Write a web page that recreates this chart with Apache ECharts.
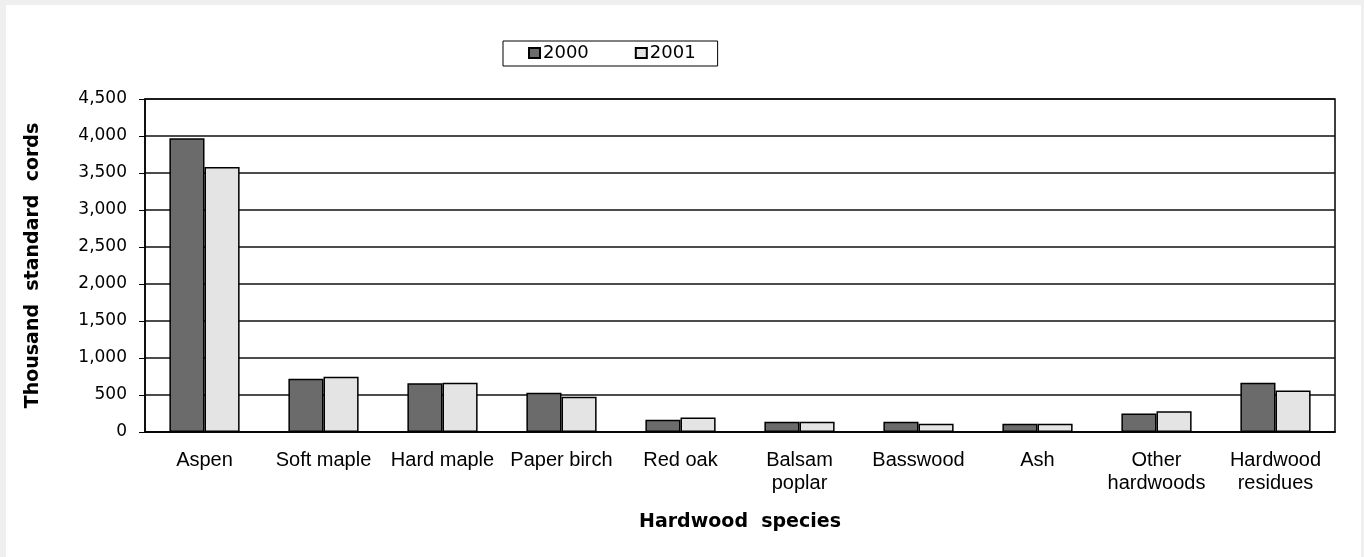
<!DOCTYPE html>
<html>
<head>
<meta charset="utf-8">
<script src="https://cdn.jsdelivr.net/npm/echarts@6/dist/echarts.min.js"></script>
<style>
  html, body { margin: 0; padding: 0; background: #efefef; }
  #chart { position: absolute; left: 6px; top: 5px; width: 1355px; height: 552px; background: #fff; }
</style>
</head>
<body>
<div id="chart"></div>
<script>
// categories and values (thousand standard cords)
const species = ["Aspen", "Soft maple", "Hard maple", "Paper birch", "Red oak",
  "Balsam\npoplar", "Basswood", "Ash", "Other\nhardwoods", "Hardwood\nresidues"];
const y2000 = [3970, 720, 660, 530, 165, 140, 140, 110, 250, 665];
const y2001 = [3580, 745, 665, 475, 195, 140, 112, 110, 280, 560];
const legendNames = ["2000", "2001"];

const chart = echarts.init(document.getElementById("chart"));
const sans = "Liberation Sans, Arial, sans-serif";
const wide = "DejaVu Sans, sans-serif";

chart.setOption({
  animation: false,
  textStyle: { fontFamily: sans },
  legend: {
    data: legendNames,
    top: 36,
    left: 497,
    itemWidth: 11,
    itemHeight: 10,
    itemGap: 46,
    icon: "rect",
    padding: [3, 22, 4, 25],
    borderColor: "#000",
    borderWidth: 1,
    textStyle: { fontSize: 18, fontFamily: wide, color: "#000", padding: [0, 0, 0, -2] }
  },
  grid: {
    left: 139,
    right: 26,
    top: 94,
    bottom: 125,
    show: true,
    borderColor: "#000",
    borderWidth: 1.5
  },
  xAxis: {
    type: "category",
    data: species,
    name: "Hardwood  species",
    nameLocation: "middle",
    nameGap: 81,
    nameTextStyle: { fontSize: 19, fontFamily: wide, fontWeight: "bold", color: "#000" },
    axisLine: { lineStyle: { color: "#000", width: 1.5 } },
    axisTick: { show: false },
    axisLabel: { fontSize: 20, color: "#000", margin: 17, lineHeight: 23, interval: 0 }
  },
  yAxis: {
    type: "value",
    min: 0,
    max: 4500,
    interval: 500,
    name: "Thousand  standard  cords",
    nameLocation: "middle",
    nameGap: 102,
    nameTextStyle: { fontSize: 19, fontFamily: wide, fontWeight: "bold", color: "#000" },
    axisLine: { show: true, lineStyle: { color: "#000", width: 1.5 } },
    axisTick: { show: true, length: 6, lineStyle: { color: "#000" } },
    axisLabel: {
      fontSize: 17, fontFamily: wide, color: "#000", margin: 18,
      formatter: v => v.toLocaleString("en-US")
    },
    splitLine: { lineStyle: { color: "#111", width: 1.5 } }
  },
  series: [
    {
      name: "2000",
      type: "bar",
      data: y2000,
      barGap: "0%",
      barCategoryGap: "41%",
      itemStyle: { color: "#6b6b6b", borderColor: "#000", borderWidth: 1.5 }
    },
    {
      name: "2001",
      type: "bar",
      data: y2001,
      itemStyle: { color: "#e4e4e4", borderColor: "#000", borderWidth: 1.5 }
    }
  ]
});
</script>
</body>
</html>
